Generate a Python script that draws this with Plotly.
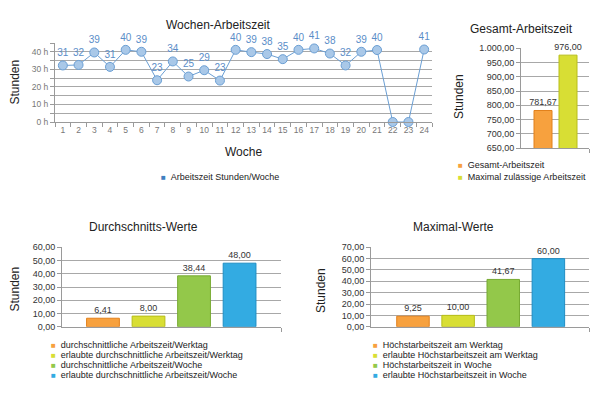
import plotly.graph_objects as go

# ---------------- data ----------------
weeks = [str(i) for i in range(1, 25)]
week_hours = [32.2, 32.5, 39.6, 31.4, 41.1, 40.0, 23.8, 34.5, 25.9, 29.5, 23.6, 41.1,
              39.8, 38.7, 35.8, 41.1, 41.9, 39.0, 32.2, 40.0, 41.0, 0.0, 0.0, 41.3]
week_labels = ["31", "32", "39", "31", "40", "39", "23", "34", "25", "29", "23", "40",
               "39", "38", "35", "40", "41", "38", "32", "39", "40", "", "", "41"]
week_series = "Arbeitszeit Stunden/Woche"
week_yticks = [0, 10, 20, 30, 40]
week_yticktext = ["0 h", "10 h", "20 h", "30 h", "40 h"]

total_names = ["Gesamt-Arbeitszeit", "Maximal zulässige Arbeitszeit"]
total_values = [781.67, 976.00]

avg_names = ["durchschnittliche Arbeitszeit/Werktag",
             "erlaubte durchschnittliche Arbeitszeit/Werktag",
             "durchschnittliche Arbeitszeit/Woche",
             "erlaubte durchschnittliche Arbeitszeit/Woche"]
avg_values = [6.41, 8.00, 38.44, 48.00]

max_names = ["Höchstarbeitszeit am Werktag",
             "erlaubte Höchstarbeitszeit am Werktag",
             "Höchstarbeitszeit in Woche",
             "erlaubte Höchstarbeitszeit in Woche"]
max_values = [9.25, 10.00, 41.67, 60.00]

bar_fill = ["#f7a13e", "#d8de34", "#93c84a", "#33abe2"]
bar_edge = ["#e2801b", "#b8be18", "#77aa32", "#1f8dc4"]
line_color = "#6b9fd4"
legend_blue = "#3f7fbf"

FONT = "Liberation Sans, Arial, sans-serif"
W, H = 600, 400
OFF = 8  # the page body adds an 8px margin around the figure
GRID = "#a8a8a8"
AXIS = "#9a9a9a"


def px(x):
    return (x - OFF) / W


def py(y):
    return 1 - (y - OFF) / H


fig = go.Figure()

# ---------------- line chart ----------------
fig.add_trace(go.Scatter(
    x=weeks, y=week_hours, mode="lines+markers+text",
    text=week_labels, textposition="top center",
    textfont=dict(size=10, color="#5a8dc8", family=FONT),
    line=dict(color=line_color, width=1),
    marker=dict(size=9, color="#a9c8e8", line=dict(color=line_color, width=1)),
    cliponaxis=False, showlegend=False, name=week_series,
    xaxis="x", yaxis="y"))


# ---------------- bar charts ----------------
def bar(values, axx, axy):
    fig.add_trace(go.Bar(
        x=list(range(len(values))), y=values, width=0.72,
        marker=dict(color=bar_fill[:len(values)],
                    line=dict(color=bar_edge[:len(values)], width=1)),
        text=values, texttemplate="%{y:.2f}", textposition="outside",
        textfont=dict(size=9, color="#333333", family=FONT),
        constraintext="none", cliponaxis=False, showlegend=False,
        xaxis=axx, yaxis=axy))


bar(total_values, "x2", "y2")
bar(avg_values, "x3", "y3")
bar(max_values, "x4", "y4")

tickfont_bar = dict(size=9, color="#333333", family=FONT)

layout = dict(
    width=W, height=H, margin=dict(l=0, r=0, t=0, b=0, autoexpand=False),
    paper_bgcolor="white", plot_bgcolor="white",
    separators=",.", font=dict(family=FONT, color="#222222"),
    showlegend=False,
    xaxis=dict(domain=[px(55), px(432)], type="category", range=[-0.5, 23.5],
               showline=True, linecolor=AXIS, ticks="outside", ticklen=4,
               tickcolor=AXIS, tickson="boundaries", showgrid=False,
               tickangle=0, automargin=False,
               tickfont=dict(size=8.5, color="#777777", family=FONT),
               anchor="y", fixedrange=True),
    yaxis=dict(domain=[py(122), py(43)], range=[0, 45],
               tickvals=week_yticks, ticktext=week_yticktext,
               ticks="outside", ticklen=4, tickcolor=AXIS, automargin=False,
               showline=True, linecolor=AXIS, showgrid=True, gridcolor=GRID,
               zeroline=False,
               minor=dict(tickvals=[5, 15, 25, 35, 45], ticks="outside",
                          ticklen=4, tickcolor=AXIS, showgrid=True,
                          gridcolor=GRID),
               tickfont=dict(size=8.5, color="#777777", family=FONT),
               anchor="x"),
    xaxis2=dict(domain=[px(521), px(589)], range=[-0.88, 1.84],
                showline=True, linecolor=AXIS, showgrid=False, zeroline=False,
                tickvals=[1.84], ticktext=[""], ticks="outside", ticklen=4,
                tickcolor=AXIS, anchor="y2", automargin=False),
    yaxis2=dict(domain=[py(148), py(48.3)], range=[650, 1000],
                tick0=650, dtick=50, tickformat=",.2f",
                ticks="outside", ticklen=4, tickcolor=AXIS, automargin=False,
                showline=True, linecolor=AXIS, gridcolor=GRID, zeroline=False,
                tickfont=tickfont_bar, anchor="x2"),
    xaxis3=dict(domain=[px(62), px(281)], range=[-0.9, 3.91],
                showline=True, linecolor=AXIS, showgrid=False, zeroline=False,
                tickvals=[3.91], ticktext=[""], ticks="outside", ticklen=4,
                tickcolor=AXIS, anchor="y3", automargin=False),
    yaxis3=dict(domain=[py(326.7), py(247.3)], range=[0, 60], dtick=10,
                tickformat=".2f", ticks="outside", ticklen=4, tickcolor=AXIS,
                showline=True, linecolor=AXIS, gridcolor=GRID, zeroline=False,
                tickfont=tickfont_bar, anchor="x3", automargin=False),
    xaxis4=dict(domain=[px(371), px(589)], range=[-0.93, 3.9],
                showline=True, linecolor=AXIS, showgrid=False, zeroline=False,
                tickvals=[3.9], ticktext=[""], ticks="outside", ticklen=4,
                tickcolor=AXIS, anchor="y4", automargin=False),
    yaxis4=dict(domain=[py(326.7), py(247.3)], range=[0, 70], dtick=10,
                tickformat=".2f", ticks="outside", ticklen=4, tickcolor=AXIS,
                showline=True, linecolor=AXIS, gridcolor=GRID, zeroline=False,
                tickfont=tickfont_bar, anchor="x4", automargin=False),
)
fig.update_layout(**layout)

ann = []


def text(x, y, s, size=12, angle=0, xanchor="center", color="#222222"):
    ann.append(dict(x=px(x), y=py(y), xref="paper", yref="paper", text=s,
                    showarrow=False, xanchor=xanchor, yanchor="middle",
                    textangle=angle, font=dict(size=size, color=color, family=FONT)))


# titles
text(218, 25, "Wochen-Arbeitszeit")
text(521, 29, "Gesamt-Arbeitszeit")
text(143.5, 227, "Durchschnitts-Werte")
text(453, 227, "Maximal-Werte")
# axis titles
text(14.5, 82, "Stunden", angle=-90)
text(459, 97, "Stunden", angle=-90)
text(14.5, 289, "Stunden", angle=-90)
text(321, 290, "Stunden", angle=-90)
text(243, 152, "Woche")


def legend_item(x, y, color, label):
    s = ("<span style='color:%s;font-size:8px'>■</span>\u00a0\u00a0%s" % (color, label))
    ann.append(dict(x=px(x), y=py(y), xref="paper", yref="paper", text=s,
                    showarrow=False, xanchor="left", yanchor="middle",
                    font=dict(size=9, color="#222222", family=FONT)))


legend_item(158.5, 177, legend_blue, week_series)
for i, name in enumerate(total_names):
    legend_item(455.5, 165 + 11.5 * i, bar_fill[i], name)
for i, name in enumerate(avg_names):
    legend_item(48.5, 345 + 10 * i, bar_fill[i], name)
for i, name in enumerate(max_names):
    legend_item(370.5, 345 + 10 * i, bar_fill[i], name)

fig.update_layout(annotations=ann)
fig.write_html("out.html")
